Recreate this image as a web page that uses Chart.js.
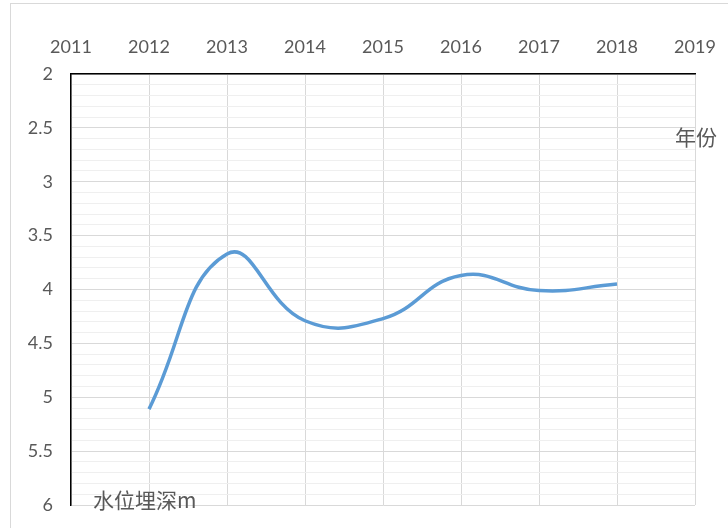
<!DOCTYPE html>
<html lang="zh">
<head>
    <meta charset="UTF-8">
    <title>水位埋深</title>
    <script src="https://cdn.jsdelivr.net/npm/chart.js"></script>
    <style>
        body { margin: 0; background: #fff; }
        .wrap { position: relative; width: 728px; height: 528px; }
    </style>
</head>
<body>
    <div class="wrap">
        <canvas id="depthChart" width="728" height="528"></canvas>
    </div>

    <script>
        const years = [2012, 2013, 2014, 2015, 2016, 2017, 2018];
        const depths = [5.11, 3.67, 4.29, 4.27, 3.87, 4.01, 3.95];
        const xTitle = '年份';
        const yTitle = '水位埋深m';

        const isMajor = v => Math.abs(v * 2 - Math.round(v * 2)) < 1e-6;

        // outer frame + axis titles
        const extras = {
            id: 'extras',
            beforeDraw(chart) {
                const ctx = chart.ctx;
                ctx.save();
                ctx.fillStyle = '#fff';
                ctx.fillRect(0, 0, chart.width, chart.height);
                ctx.strokeStyle = '#d9d9d9';
                ctx.lineWidth = 1;
                ctx.strokeRect(10.5, 3.5, 800, 600);
                ctx.restore();
            },
            afterDraw(chart) {
                const ctx = chart.ctx;
                ctx.save();
                ctx.fillStyle = '#595959';
                ctx.font = '21px "Noto Sans CJK SC"';
                ctx.textBaseline = 'middle';
                ctx.fillText(xTitle, 675, 137);
                ctx.fillText(yTitle, 93, 500);
                ctx.restore();
            }
        };

        new Chart(document.getElementById('depthChart'), {
            type: 'line',
            data: {
                datasets: [{
                    data: years.map((y, i) => ({ x: y, y: depths[i] })),
                    borderColor: '#5b9bd5',
                    borderWidth: 3.5,
                    pointRadius: 0,
                    tension: 0.45,
                    fill: false
                }]
            },
            options: {
                responsive: false,
                animation: false,
                layout: { padding: { left: 0, top: 0, right: 33, bottom: 23 } },
                plugins: { legend: { display: false }, tooltip: { enabled: false } },
                scales: {
                    x: {
                        type: 'linear',
                        position: 'top',
                        min: 2011,
                        max: 2019,
                        afterFit: s => { s.height = 74; s.paddingLeft = 0; s.paddingRight = 0; },
                        ticks: {
                            stepSize: 1,
                            color: '#595959',
                            font: { family: 'Lato', size: 18 },
                            padding: 16,
                            callback: v => String(v)
                        },
                        grid: { color: '#d9d9d9', drawTicks: false },
                        border: { color: '#000', width: 1.5 }
                    },
                    y: {
                        reverse: true,
                        min: 2,
                        max: 6,
                        afterFit: s => { s.width = 71; s.paddingTop = 0; s.paddingBottom = 0; },
                        ticks: {
                            stepSize: 0.1,
                            autoSkip: false,
                            color: '#595959',
                            font: { family: 'Lato', size: 18 },
                            padding: 18,
                            callback: v => isMajor(v) ? String(Math.round(v * 10) / 10) : ''
                        },
                        grid: {
                            drawTicks: false,
                            color: c => isMajor(c.tick.value) ? '#d9d9d9' : '#efefef'
                        },
                        border: { color: '#000', width: 1.5 }
                    }
                }
            },
            plugins: [extras]
        });
    </script>
</body>
</html>
